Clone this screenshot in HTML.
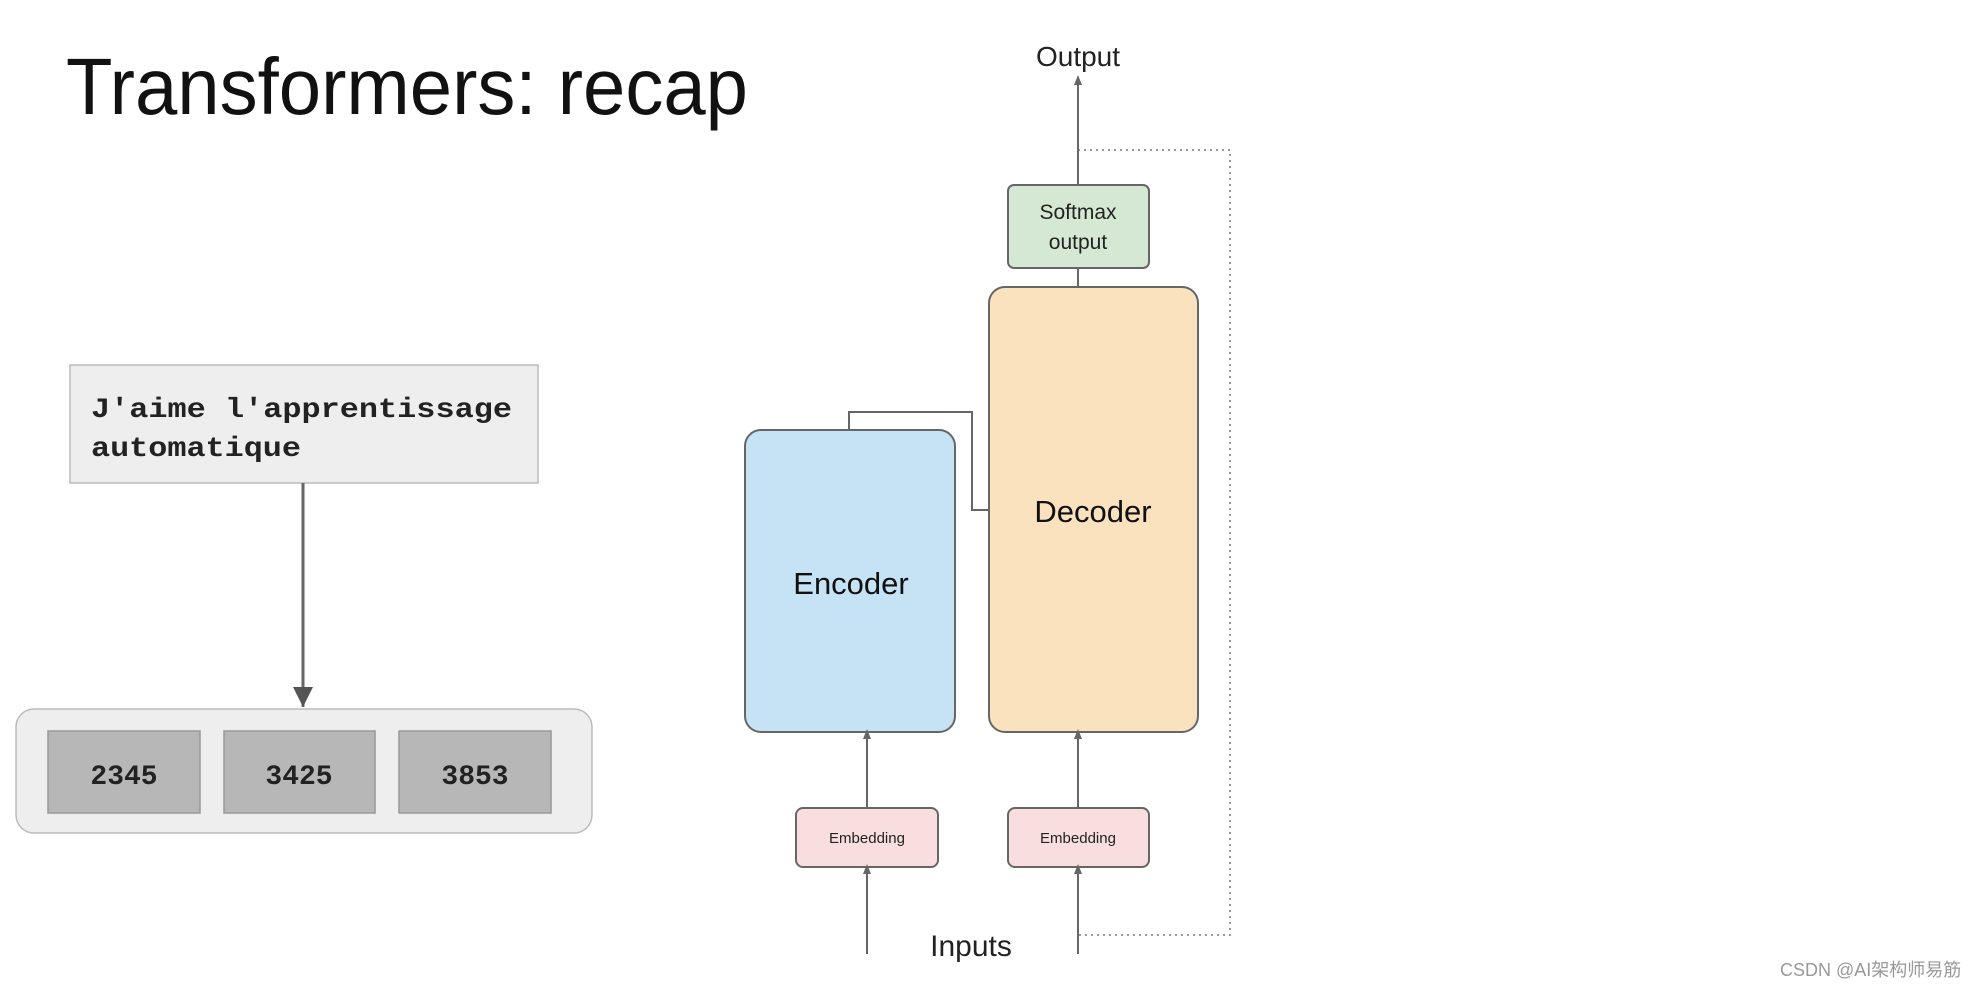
<!DOCTYPE html>
<html><head><meta charset="utf-8"><style>
html,body{margin:0;padding:0;background:#fff;}
svg{display:block;}
</style></head><body>
<svg width="1982" height="988" viewBox="0 0 1982 988" xmlns="http://www.w3.org/2000/svg">
<defs>
<marker id="a" markerWidth="10" markerHeight="10" refX="5" refY="5" orient="auto" markerUnits="userSpaceOnUse"><path d="M0,1 L10,5 L0,9 z" fill="#666"/></marker>
<marker id="b" markerWidth="20" markerHeight="24" refX="20" refY="12" orient="auto" markerUnits="userSpaceOnUse"><path d="M0,2 L20,12 L0,22 z" fill="#555"/></marker>
</defs>
<text x="66" y="114" font-family="Liberation Sans, sans-serif" font-size="80" fill="#111" textLength="682" lengthAdjust="spacingAndGlyphs">Transformers: recap</text>

<rect x="70" y="365" width="468" height="118" fill="#eeeeee" stroke="#bbb" stroke-width="1.5"/>
<text x="91" y="417" font-family="Liberation Mono, monospace" font-weight="bold" font-size="28" fill="#222" textLength="421" lengthAdjust="spacingAndGlyphs">J'aime l'apprentissage</text>
<text x="91" y="456" font-family="Liberation Mono, monospace" font-weight="bold" font-size="28" fill="#222" textLength="210" lengthAdjust="spacingAndGlyphs">automatique</text>
<line x1="303" y1="483" x2="303" y2="707" stroke="#666" stroke-width="3" marker-end="url(#b)"/>

<rect x="16" y="709" width="576" height="124" rx="18" fill="#eeeeee" stroke="#bbb" stroke-width="1.5"/>
<rect x="48" y="731" width="152" height="82" fill="#b7b7b7" stroke="#999" stroke-width="1.5"/>
<rect x="224" y="731" width="151" height="82" fill="#b7b7b7" stroke="#999" stroke-width="1.5"/>
<rect x="399" y="731" width="152" height="82" fill="#b7b7b7" stroke="#999" stroke-width="1.5"/>
<g font-family="Liberation Mono, monospace" font-weight="bold" font-size="28" fill="#222" text-anchor="middle">
<text x="124" y="784">2345</text><text x="299" y="784">3425</text><text x="475" y="784">3853</text>
</g>

<!-- dotted loop -->
<path d="M1078,150 H1230 V935 H1078" fill="none" stroke="#999" stroke-width="2" stroke-dasharray="2,4"/>
<!-- output line -->
<line x1="1078" y1="185" x2="1078" y2="80" stroke="#666" stroke-width="2" marker-end="url(#a)"/>
<text x="1078" y="66" font-family="Liberation Sans, sans-serif" font-size="28" fill="#222" text-anchor="middle">Output</text>
<line x1="1078" y1="268" x2="1078" y2="287" stroke="#666" stroke-width="2"/>
<rect x="1008" y="185" width="141" height="83" rx="6" fill="#d5e8d4" stroke="#666" stroke-width="2"/>
<text x="1078" y="219" font-family="Liberation Sans, sans-serif" font-size="21" fill="#222" text-anchor="middle">Softmax</text>
<text x="1078" y="249" font-family="Liberation Sans, sans-serif" font-size="21" fill="#222" text-anchor="middle">output</text>

<path d="M849,430 V412 H972 V510 H989" fill="none" stroke="#666" stroke-width="2"/>
<rect x="745" y="430" width="210" height="302" rx="16" fill="#c6e3f5" stroke="#666" stroke-width="2"/>
<text x="851" y="594" font-family="Liberation Sans, sans-serif" font-size="31" fill="#111" text-anchor="middle">Encoder</text>
<rect x="989" y="287" width="209" height="445" rx="16" fill="#f9e2bd" stroke="#666" stroke-width="2"/>
<text x="1093" y="522" font-family="Liberation Sans, sans-serif" font-size="31" fill="#111" text-anchor="middle">Decoder</text>

<rect x="796" y="808" width="142" height="59" rx="7" fill="#f8dede" stroke="#666" stroke-width="2"/>
<rect x="1008" y="808" width="141" height="59" rx="7" fill="#f8dede" stroke="#666" stroke-width="2"/>
<text x="867" y="843" font-family="Liberation Sans, sans-serif" font-size="15" fill="#222" text-anchor="middle">Embedding</text>
<text x="1078" y="843" font-family="Liberation Sans, sans-serif" font-size="15" fill="#222" text-anchor="middle">Embedding</text>
<line x1="867" y1="808" x2="867" y2="734" stroke="#666" stroke-width="2" marker-end="url(#a)"/>
<line x1="1078" y1="808" x2="1078" y2="734" stroke="#666" stroke-width="2" marker-end="url(#a)"/>
<line x1="867" y1="954" x2="867" y2="869" stroke="#666" stroke-width="2" marker-end="url(#a)"/>
<line x1="1078" y1="954" x2="1078" y2="869" stroke="#666" stroke-width="2" marker-end="url(#a)"/>
<text x="971" y="956" font-family="Liberation Sans, sans-serif" font-size="30" fill="#222" text-anchor="middle">Inputs</text>

<text x="1780" y="976" font-family="Liberation Sans, 'Noto Sans CJK SC', sans-serif" font-size="18" fill="#999">CSDN @AI架构师易筋</text>
</svg>
</body></html>
